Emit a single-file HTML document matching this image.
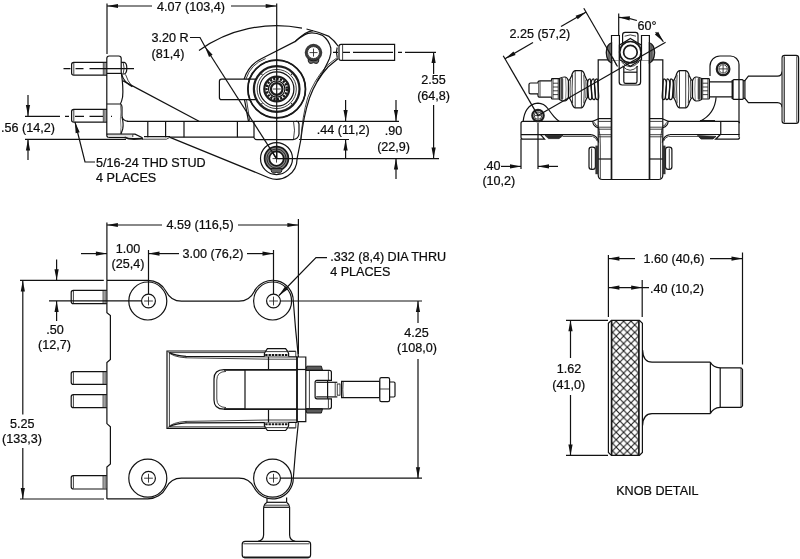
<!DOCTYPE html>
<html><head><meta charset="utf-8"><title>Drawing</title>
<style>
html,body{margin:0;padding:0;background:#fff;}
body{width:800px;height:559px;overflow:hidden;}
svg{display:block;opacity:0.999;will-change:transform;}
.l{fill:none;stroke:#121212;stroke-width:1.2;}
.w{fill:#fff;stroke:#121212;stroke-width:1.2;}
.k{fill:none;stroke:#181818;stroke-width:1.7;}
.kk{fill:none;stroke:#1d1d1d;stroke-width:2.2;}
.f{fill:none;stroke:#202020;stroke-width:0.85;}
.g{fill:none;stroke:#555;stroke-width:0.7;}
.d{fill:#2a2a2a;stroke:#1d1d1d;stroke-width:0.8;}
.a{fill:#111;stroke:none;}
.t{font-family:"Liberation Sans",sans-serif;font-size:12.6px;fill:#0c0c0c;stroke:#0c0c0c;stroke-width:0.22px;}
</style></head><body>
<svg width="800" height="559" viewBox="0 0 800 559">
<rect x="0" y="0" width="800" height="559" fill="#fff"/>
<g id="v1">
<line class="l" x1="107" y1="3.5" x2="107" y2="54"/>
<line class="l" x1="276.7" y1="3.5" x2="276.7" y2="158.6"/>
<line class="l" x1="107" y1="6" x2="152" y2="6"/>
<polygon class="a" points="107.00,6.00 118.00,3.90 118.00,8.10"/>
<line class="l" x1="231" y1="6" x2="276.7" y2="6"/>
<polygon class="a" points="276.70,6.00 265.70,8.10 265.70,3.90"/>
<text class="t" x="157" y="10.6" text-anchor="start">4.07 (103,4)</text>
<path class="l" d="M199.0,50.5 A133,133 0 0 1 302.0,28.1"/>
<path class="l" d="M306.5,29.0 A133,133 0 0 1 329.0,36.4 Q334.6,40.6 338.2,46.2"/>
<line class="l" x1="276.5" y1="158.6" x2="204.88029795832466" y2="46.5302972277447"/>
<polygon class="a" points="204.88,46.53 212.57,54.67 209.03,56.93"/>
<path class="l" d="M204.9,46.5 L200,37.5 H190"/>
<text class="t" x="151.5" y="42" text-anchor="start">3.20 R</text>
<text class="t" x="151.5" y="57.7" text-anchor="start">(81,4)</text>
<path class="w" d="M107,62.3 H73.8 Q71.6,62.3 71.6,64.5 V73.0 Q71.6,75.2 73.8,75.2 H107"/>
<line class="f" x1="73.8" y1="62.8" x2="73.8" y2="74.7"/>
<line class="f" x1="103.3" y1="62.599999999999994" x2="103.3" y2="74.9"/>
<line class="g" x1="104.5" y1="62.599999999999994" x2="104.5" y2="74.9"/>
<line class="g" x1="105.7" y1="62.599999999999994" x2="105.7" y2="74.9"/>
<path class="w" d="M107,109.4 H73.8 Q71.6,109.4 71.6,111.60000000000001 V120.0 Q71.6,122.2 73.8,122.2 H107"/>
<line class="f" x1="73.8" y1="109.9" x2="73.8" y2="121.7"/>
<line class="f" x1="103.3" y1="109.7" x2="103.3" y2="121.9"/>
<line class="g" x1="104.5" y1="109.7" x2="104.5" y2="121.9"/>
<line class="g" x1="105.7" y1="109.7" x2="105.7" y2="121.9"/>
<path class="l" stroke-dasharray="7 5 8 6 45 200" d="M63.5,68.6 H134"/>
<path class="l" stroke-dasharray="35 5 4 6 9 5.5 13.5 8 1 200" d="M25,116.3 H113"/>
<path class="l" d="M106.8,135.3 Q106.8,137.3 108.8,137.3 M106.8,135.3 V58.5 Q106.8,56 109.3,56 H118.7 Q121.2,56 121.2,58.5 V72 Q123.6,88 122.6,97 Q121.6,102 120.4,104"/>
<line class="l" x1="106.8" y1="73.4" x2="121.4" y2="73.4"/>
<path class="l" d="M121.2,62.4 H124.3 Q126.8,63 126.8,68.2 Q126.8,73.2 124.3,74 H121.6"/>
<path class="f" d="M123.2,62.6 Q125,68.2 123.2,73.8"/>
<path class="l" d="M106.8,104 H120.4 Q122,104.6 122,107 V116 Q122.4,120.8 128,121.3"/>
<path class="l" d="M122,117 Q123.8,124 122.7,129 Q121.6,132 121,134.2"/>
<path class="g" d="M120.4,105 Q121.4,112 120.4,119 Q121.6,128 120.4,134"/>
<path class="l" d="M121.8,74.6 Q123.6,82 132.3,86.6"/>
<path class="f" d="M125.5,74.4 Q127.5,81 132.3,86.6"/>
<line class="l" x1="122.6" y1="80.6" x2="199" y2="121.3"/>
<line class="l" x1="127" y1="121.3" x2="399" y2="121.3"/>
<path class="l" d="M106.8,134.2 H135 L142.5,137.8 M108.8,137.3 H125 M144,136.6 H170 M170,137.2 H254"/>
<rect x="108" y="134.8" width="25" height="2" fill="#ddd"/>
<line class="f" x1="132.8" y1="134.4" x2="132.8" y2="137"/>
<path class="f" d="M142,139.2 H166.4 L170,137.3"/>
<path d="M124.5,137.2 Q128,139 134,139 L143,138.6" fill="none" stroke="#151515" stroke-width="1.8"/>
<line class="l" x1="147.8" y1="121.3" x2="147.8" y2="137.2"/>
<line class="l" x1="165.6" y1="121.3" x2="165.6" y2="137.2"/>
<line class="l" x1="184" y1="121.3" x2="184" y2="137.2"/>
<line class="l" x1="237.4" y1="121.3" x2="237.4" y2="137.2"/>
<path class="l" d="M254,121 V137.6 Q254.5,139.6 257,139.6 H293 Q298.5,139 299,134 V124 Q298.8,121.5 296,121"/>
<path class="f" d="M293.5,121.5 Q295.5,130 293.5,139.2"/>
<line class="l" x1="299" y1="139.5" x2="349" y2="139.5"/>
<path class="l" d="M170,137.4 L268.7,177.7 A20.6,20.6 0 0 0 297.1,158.6 L300.8,140"/>
<path class="l" d="M338.2,58.5 Q334.4,61.7 328,67 Q316,80 309.5,98 Q303.5,116 300.8,140"/>
<path class="f" d="M337.6,57.4 Q332.2,61.2 326.9,65.6 Q314,80 307.6,98 Q302.4,116 300.8,140"/>
<path class="l" d="M295.6,41 Q303,35 308,33.4 Q314,31.8 322.6,35.4 Q329,40 330.8,48 Q331.6,53 329.5,58.5 Q327,64 322.6,72.5 Q319.5,77 317,81.6"/>
<path class="l" d="M295,41.8 Q300,37 305,33.6 Q309,31 313,30.6"/>
<path class="l" d="M295.4,41.4 L261.3,58.7 A34.0,34.0 0 0 0 244.1,79.2"/>
<path class="f" d="M265.6,58.6 A32.3,32.3 0 0 0 245.9,79.2"/>
<path class="l" d="M244.5,99.6 L248.5,121.3"/>
<path class="f" d="M246.5,99.6 L249.8,121.3"/>
<circle cx="313.5" cy="52.6" r="7.5" fill="none" stroke="#3a3a3a" stroke-width="2.6"/>
<circle class="f" cx="313.5" cy="52.6" r="6"/>
<line class="f" x1="309.5" y1="52.6" x2="317.5" y2="52.6"/>
<line class="f" x1="313.5" y1="48.6" x2="313.5" y2="56.6"/>
<path d="M308.2,59.2 Q308,63.6 311.2,63.4 Q313.5,62 315.8,63.4 Q319,63.6 318.8,59.2 Q313.5,62.6 308.2,59.2 Z" fill="#666" stroke="#181818" stroke-width="1"/>
<path class="l" d="M255.5,79.2 H221.5 Q219.4,79.2 219.4,81.4 V97.4 Q219.4,99.6 221.5,99.6 H255.5"/>
<circle class="w" cx="276.7" cy="89.0" r="28.8"/>
<circle class="k" cx="276.7" cy="89.0" r="28.8"/>
<circle class="kk" cx="276.7" cy="89.0" r="22.8"/>
<circle class="f" cx="276.7" cy="89.0" r="19.6"/>
<circle class="l" cx="276.7" cy="89.0" r="17.2"/>
<circle class="kk" cx="276.7" cy="89.0" r="12.4"/>
<circle cx="276.7" cy="89.0" r="10.2" fill="none" stroke="#181818" stroke-width="2.4" stroke-dasharray="2.2 1.2"/>
<circle class="l" cx="276.7" cy="89.0" r="8.2"/>
<circle class="kk" cx="276.7" cy="89.0" r="5.8"/>
<circle cx="291.5" cy="103.8" r="0.7" fill="#181818"/>
<circle cx="261.9" cy="103.8" r="0.7" fill="#181818"/>
<circle cx="261.9" cy="74.2" r="0.7" fill="#181818"/>
<circle cx="291.5" cy="74.2" r="0.7" fill="#181818"/>
<path class="l" d="M248,79.2 H256 M248,99.6 H256"/>
<line class="l" x1="276.7" y1="59.0" x2="276.7" y2="119.0"/>
<line class="f" x1="272.7" y1="89.0" x2="280.7" y2="89.0"/>
<circle class="l" cx="276.5" cy="158.6" r="16"/>
<circle cx="276.5" cy="158.6" r="9.6" fill="none" stroke="#858585" stroke-width="4.4"/>
<circle class="k" cx="276.5" cy="158.6" r="11.9"/>
<circle class="f" cx="276.5" cy="158.6" r="9.6"/>
<circle class="k" cx="276.5" cy="158.6" r="7.2"/>
<line class="f" x1="272.5" y1="158.6" x2="280.5" y2="158.6"/>
<line class="f" x1="276.5" y1="154.6" x2="276.5" y2="162.6"/>
<line class="l" x1="276.5" y1="158.6" x2="269.4995779959265" y2="147.64581852602015"/>
<line class="l" x1="276.7" y1="145.6" x2="276.7" y2="158.6"/>
<path d="M271.1,168.6 Q270.9,173.4 274.1,173.2 Q276.5,171.6 278.9,173.2 Q282.1,173.4 281.9,168.6 Z" fill="#666" stroke="#181818" stroke-width="1"/>
<path class="w" d="M339,46.5 Q339,44.4 341,44.4 H394.6 V60.4 H341 Q339,60.4 339,58.3 Z"/>
<line class="f" x1="342.6" y1="44.6" x2="342.6" y2="60.2"/>
<path class="l" d="M337.2,47.5 Q335.5,52.4 337.2,57.4"/>
<path class="l" stroke-dasharray="5 5 7 3 40 5 4 3 200" d="M333,52.3 H436"/>
<line class="l" x1="433.6" y1="52" x2="433.6" y2="74"/>
<polygon class="a" points="433.60,52.00 435.70,63.00 431.50,63.00"/>
<line class="l" x1="433.6" y1="105" x2="433.6" y2="158.6"/>
<polygon class="a" points="433.60,158.60 431.50,147.60 435.70,147.60"/>
<text class="t" x="433.6" y="84.2" text-anchor="middle">2.55</text>
<text class="t" x="433.6" y="100.4" text-anchor="middle">(64,8)</text>
<line class="l" x1="276.5" y1="158.6" x2="439" y2="158.6"/>
<line class="l" x1="345.6" y1="100" x2="345.6" y2="121"/>
<polygon class="a" points="345.60,121.00 343.50,110.00 347.70,110.00"/>
<line class="l" x1="396" y1="100" x2="396" y2="121"/>
<polygon class="a" points="396.00,121.00 393.90,110.00 398.10,110.00"/>
<line class="l" x1="345.6" y1="139.5" x2="345.6" y2="158.6"/>
<polygon class="a" points="345.60,139.50 347.70,150.50 343.50,150.50"/>
<line class="l" x1="396" y1="158.6" x2="396" y2="179"/>
<polygon class="a" points="396.00,158.60 398.10,169.60 393.90,169.60"/>
<text class="t" x="316.7" y="134" text-anchor="start">.44 (11,2)</text>
<text class="t" x="393.6" y="135" text-anchor="middle">.90</text>
<text class="t" x="393.6" y="151" text-anchor="middle">(22,9)</text>
<line class="l" x1="28" y1="95" x2="28" y2="116"/>
<polygon class="a" points="28.00,116.00 25.90,105.00 30.10,105.00"/>
<line class="l" x1="28" y1="139.4" x2="28" y2="160"/>
<polygon class="a" points="28.00,139.40 30.10,150.40 25.90,150.40"/>
<line class="l" x1="25" y1="139.4" x2="126" y2="139.4"/>
<text class="t" x="1" y="132.4" text-anchor="start">.56 (14,2)</text>
<polygon class="a" points="75.00,122.00 79.70,132.17 75.62,133.18"/>
<path class="l" d="M75,122 L85,162 H95"/>
<text class="t" x="96" y="167" text-anchor="start">5/16-24 THD STUD</text>
<text class="t" x="96" y="182" text-anchor="start">4 PLACES</text>
</g>
<g id="v2">
<path class="l" d="M593,121.4 H523 Q521,121.4 521,123.4 V137.2 Q521,139.2 523,139.2 H544.6 L540.6,134.6"/>
<line class="l" x1="521" y1="134.6" x2="591.2" y2="134.6"/>
<line class="f" x1="563" y1="136.4" x2="592.4" y2="136.4"/>
<path class="d" d="M545,135.4 L548.5,138.6 H559 L563,135.6 Z"/>
<path class="l" d="M667.9,121.3 H737.5 Q739.5,121.3 739.5,123.3 M720.75,121.3 V134.5 M669.7,134.5 H739.5 M720.4,134.5 L715.6,139.2 H737.5 Q739.5,139.2 739.5,137.2"/>
<line class="k" x1="700" y1="120.9" x2="715" y2="120.9"/>
<line class="f" x1="668.5" y1="136.4" x2="698" y2="136.4"/>
<path class="d" d="M697.5,135.6 L701,139 H713 L716,136.4 Z"/>
<path class="l" d="M523.2,121.4 Q524,113.6 527,109.4 Q531,103.6 538,103.2 Q544,103.4 547.8,108.5 Q551,113 554,116.6 Q556.6,119.6 559.4,121.4"/>
<circle class="kk" cx="538" cy="115.6" r="5.7"/>
<circle class="f" cx="538" cy="115.6" r="3.8"/>
<line class="f" x1="534.6" y1="115.6" x2="541.4" y2="115.6"/>
<line class="f" x1="538" y1="112.19999999999999" x2="538" y2="119.0"/>
<path class="l" d="M710,76 V66 A10,10 0 0 1 720,56 H730.5 A8.5,8.5 0 0 1 739,64.5 V137"/>
<path class="l" d="M716.1,97.2 Q714.8,114 700,121.2"/>
<circle class="kk" cx="723.1" cy="68.9" r="6.3"/>
<circle class="f" cx="723.1" cy="68.9" r="4.2"/>
<line class="f" x1="718.9" y1="68.9" x2="727.3000000000001" y2="68.9"/>
<line class="f" x1="723.1" y1="64.7" x2="723.1" y2="73.10000000000001"/>
<path class="w" d="M598.2,175 V59.9 H662.8 V175 Q662.8,179.5 658.3,179.5 H602.6 Q598.2,179.5 598.2,175 Z"/>
<line class="k" x1="611.5" y1="59.9" x2="611.5" y2="179.5"/>
<line class="k" x1="649.5" y1="59.9" x2="649.5" y2="179.5"/>
<line class="l" x1="598.2" y1="118.6" x2="611.5" y2="118.6"/>
<line class="f" x1="598.2" y1="121.4" x2="611.5" y2="121.4"/>
<line class="f" x1="598.2" y1="127.2" x2="611.5" y2="127.2"/>
<line class="f" x1="598.2" y1="129.2" x2="611.5" y2="129.2"/>
<line class="f" x1="598.2" y1="134.7" x2="611.5" y2="134.7"/>
<line class="f" x1="598.2" y1="136.8" x2="611.5" y2="136.8"/>
<line class="l" x1="598.2" y1="159" x2="611.5" y2="159"/>
<line class="l" x1="649.5" y1="118.6" x2="662.8" y2="118.6"/>
<line class="f" x1="649.5" y1="121.4" x2="662.8" y2="121.4"/>
<line class="f" x1="649.5" y1="127.2" x2="662.8" y2="127.2"/>
<line class="f" x1="649.5" y1="129.2" x2="662.8" y2="129.2"/>
<line class="f" x1="649.5" y1="134.7" x2="662.8" y2="134.7"/>
<line class="f" x1="649.5" y1="136.8" x2="662.8" y2="136.8"/>
<line class="l" x1="649.5" y1="159" x2="662.8" y2="159"/>
<path class="l" d="M598.6,118.8 L593,121.2 Q592,125.8 598.6,128"/>
<path class="f" d="M594.4,122.4 Q595,125.2 598.2,126.4"/>
<path class="l" d="M591.2,134.6 Q597.6,135.6 598.6,142.5"/>
<path class="f" d="M592.6,136.4 Q596.6,138 597.2,141"/>
<path class="f" d="M598.8,128 Q600.6,136 600.3,146 V178.6"/>
<rect class="w" x="589" y="147.2" width="6.399999999999977" height="22.2" rx="2.6"/>
<line class="f" x1="591.6" y1="148.5" x2="591.6" y2="169.6"/>
<rect x="595.4" y="145.6" width="2.6" height="28.6" fill="#333"/>
<path class="l" d="M662.3000000000001,118.8 L667.9000000000001,121.2 Q668.9000000000001,125.8 662.3000000000001,128"/>
<path class="f" d="M666.5000000000001,122.4 Q665.9000000000001,125.2 662.7,126.4"/>
<path class="l" d="M669.7,134.6 Q663.3000000000001,135.6 662.3000000000001,142.5"/>
<path class="f" d="M668.3000000000001,136.4 Q664.3000000000001,138 663.7,141"/>
<path class="f" d="M662.1000000000001,128 Q660.3000000000001,136 660.6000000000001,146 V178.6"/>
<rect class="w" x="665.5000000000001" y="147.2" width="6.399999999999977" height="22.2" rx="2.6"/>
<line class="f" x1="669.3000000000001" y1="148.5" x2="669.3000000000001" y2="169.6"/>
<rect x="662.9" y="145.6" width="2.6" height="28.6" fill="#333"/>
<path class="l" d="M619.2,60.2 V82 Q619.2,85 622.2,85 H637.6 Q640.6,85 640.6,82 V60.2"/>
<path class="l" d="M623.8,66 V81.5 Q623.8,83.4 625.6,83.4 H635.2 Q637,83.4 637,81.5 V66"/>
<line class="l" x1="623.8" y1="72.2" x2="637" y2="72.2"/>
<path class="f" d="M621.5,62 Q630,71.5 639,62"/>
<path class="f" d="M622.5,66 Q630,74.5 638,66"/>
<path class="w" d="M611.5,60.2 V35.5 H619.4 V60.2"/>
<path class="w" d="M641.5,60.2 V35.5 H649.4 V60.2"/>
<path d="M611.5,42.8 Q606.8,44 606.3,52.6 Q606.8,61.4 611.5,62.8 Z" fill="#9a9a9a" stroke="#181818" stroke-width="1.3"/>
<line class="f" x1="609" y1="44.4" x2="609" y2="61.2"/>
<line class="g" x1="610.4" y1="43.6" x2="610.4" y2="62"/>
<path d="M649.4000000000001,42.8 Q654.1000000000001,44 654.6000000000001,52.6 Q654.1000000000001,61.4 649.4000000000001,62.8 Z" fill="#9a9a9a" stroke="#181818" stroke-width="1.3"/>
<line class="f" x1="651.9000000000001" y1="44.4" x2="651.9000000000001" y2="61.2"/>
<line class="g" x1="650.5000000000001" y1="43.6" x2="650.5000000000001" y2="62"/>
<path class="l" d="M622.6,45 V35 Q622.6,32.4 625.2,32.4 H635.4 Q638,32.4 638,35 V45"/>
<path class="f" d="M624.6,36.2 Q630.3,33.6 636,36.2"/>
<path class="w" d="M630.4,38.4 L641.4,45.2 V59.4 L630.4,66.2 L619.4,59.4 V45.2 Z"/>
<circle class="k" cx="630.4" cy="52.2" r="10.7"/>
<circle class="k" cx="630.4" cy="52.2" r="6.8"/>
<line class="f" x1="612.3" y1="56.6" x2="616.8" y2="65.6"/>
<path class="w" d="M568.4,80.8 Q570,80 571.5,76 Q573,71 575.2,70.7 H581.4 Q583.5,71 585,76 Q586.5,80 587.6,80.8 V97.2 Q586.5,98 585,102 Q583.5,107.5 581.4,107.9 H575.2 Q573,107.5 571.5,102 Q570,98 568.4,97.2 Z"/>
<line class="f" x1="575.2" y1="70.7" x2="575.2" y2="107.9"/>
<line class="f" x1="581.4" y1="70.7" x2="581.4" y2="107.9"/>
<path class="f" d="M570.4,79.8 Q569.6,89 570.4,98.2"/>
<path class="f" d="M572.6,74.6 Q571.6,89 572.6,103.4"/>
<path class="f" d="M585.8,79.8 Q586.6,89 585.8,98.2"/>
<path class="f" d="M583.8,74.6 Q584.8,89 583.8,103.4"/>
<path class="l" d="M590.0,78.8 Q587.6,79 587.4,84 L588.4,96 Q588.6,100 590.8,99.6 Q592.2,99 591.6,94 L590.8,83 Q590.6,78.8 590.0,78.8"/>
<path class="l" d="M593.6,78.8 Q591.2,79 591.0,84 L592.0,96 Q592.2,100 594.4,99.6 Q595.8000000000001,99 595.2,94 L594.4,83 Q594.2,78.8 593.6,78.8"/>
<path class="l" d="M597.0,78.8 Q594.6,79 594.4,84 L595.4,96 Q595.6,100 597.8,99.6 Q599.2,99 598.6,94 L597.8,83 Q597.6,78.8 597.0,78.8"/>
<path class="w" d="M559.4,78.5 Q562,76.8 565,77 Q567.6,77.6 568.4,80.8 V97.2 Q567.6,100.4 565,101 Q562,101.2 559.4,99.4 Z"/>
<rect x="560.4" y="78" width="2.800000000000068" height="21.8" rx="1" fill="#4a4a4a" stroke="none"/>
<path class="g" d="M565.6,77.6 Q566.6,89 565.6,100.4"/>
<rect class="w" x="551.5" y="78.6" width="7.899999999999977" height="20.4" rx="0.8"/>
<line class="f" x1="553" y1="79" x2="553" y2="98.6"/>
<line class="f" x1="558.2" y1="79" x2="558.2" y2="98.6"/>
<line class="f" x1="553" y1="83.2" x2="558.2" y2="83.2"/>
<line class="f" x1="553" y1="87" x2="558.2" y2="87"/>
<line class="f" x1="553" y1="90.8" x2="558.2" y2="90.8"/>
<line class="f" x1="553" y1="94.6" x2="558.2" y2="94.6"/>
<path class="w" d="M692.5000000000001,80.8 Q690.9000000000001,80 689.4000000000001,76 Q687.9000000000001,71 685.7,70.7 H679.5000000000001 Q677.4000000000001,71 675.9000000000001,76 Q674.4000000000001,80 673.3000000000001,80.8 V97.2 Q674.4000000000001,98 675.9000000000001,102 Q677.4000000000001,107.5 679.5000000000001,107.9 H685.7 Q687.9000000000001,107.5 689.4000000000001,102 Q690.9000000000001,98 692.5000000000001,97.2 Z"/>
<line class="f" x1="685.7" y1="70.7" x2="685.7" y2="107.9"/>
<line class="f" x1="679.5000000000001" y1="70.7" x2="679.5000000000001" y2="107.9"/>
<path class="f" d="M690.5000000000001,79.8 Q691.3000000000001,89 690.5000000000001,98.2"/>
<path class="f" d="M688.3000000000001,74.6 Q689.3000000000001,89 688.3000000000001,103.4"/>
<path class="f" d="M675.1000000000001,79.8 Q674.3000000000001,89 675.1000000000001,98.2"/>
<path class="f" d="M677.1000000000001,74.6 Q676.1000000000001,89 677.1000000000001,103.4"/>
<path class="l" d="M670.9000000000001,78.8 Q673.3000000000001,79 673.5000000000001,84 L672.5000000000001,96 Q672.3000000000001,100 670.1000000000001,99.6 Q668.7,99 669.3000000000001,94 L670.1000000000001,83 Q670.3000000000001,78.8 670.9000000000001,78.8"/>
<path class="l" d="M667.3000000000001,78.8 Q669.7,79 669.9000000000001,84 L668.9000000000001,96 Q668.7,100 666.5000000000001,99.6 Q665.1,99 665.7,94 L666.5000000000001,83 Q666.7,78.8 667.3000000000001,78.8"/>
<path class="l" d="M663.9000000000001,78.8 Q666.3000000000001,79 666.5000000000001,84 L665.5000000000001,96 Q665.3000000000001,100 663.1000000000001,99.6 Q661.7,99 662.3000000000001,94 L663.1000000000001,83 Q663.3000000000001,78.8 663.9000000000001,78.8"/>
<path class="w" d="M701.5000000000001,78.5 Q698.9000000000001,76.8 695.9000000000001,77 Q693.3000000000001,77.6 692.5000000000001,80.8 V97.2 Q693.3000000000001,100.4 695.9000000000001,101 Q698.9000000000001,101.2 701.5000000000001,99.4 Z"/>
<rect x="697.7" y="78" width="2.800000000000068" height="21.8" rx="1" fill="#4a4a4a" stroke="none"/>
<path class="g" d="M695.3000000000001,77.6 Q694.3000000000001,89 695.3000000000001,100.4"/>
<rect class="w" x="701.5000000000001" y="78.6" width="7.899999999999977" height="20.4" rx="0.8"/>
<line class="f" x1="707.9000000000001" y1="79" x2="707.9000000000001" y2="98.6"/>
<line class="f" x1="702.7" y1="79" x2="702.7" y2="98.6"/>
<line class="f" x1="707.9000000000001" y1="83.2" x2="702.7" y2="83.2"/>
<line class="f" x1="707.9000000000001" y1="87" x2="702.7" y2="87"/>
<line class="f" x1="707.9000000000001" y1="90.8" x2="702.7" y2="90.8"/>
<line class="f" x1="707.9000000000001" y1="94.6" x2="702.7" y2="94.6"/>
<path class="l" d="M709.1,81.8 H732.2 M709.1,96.8 H732.2"/>
<line class="k" x1="732.4" y1="80" x2="732.4" y2="99"/>
<rect class="l" x="732.9" y="79.7" width="10.3" height="19.7" rx="1"/>
<path class="l" d="M743.2,80.6 H744.9 L748.4,76.2 H777.4 Q781.8,76 782.1,71.6 M743.2,98.4 H744.9 L748.4,102.6 H777.4 Q781.8,102.8 782.1,107.2"/>
<line class="l" x1="744.9" y1="80.6" x2="744.9" y2="98.4"/>
<rect class="w" x="782.1" y="55.3" width="16.5" height="68.1" rx="2.6"/>
<rect x="782.7" y="57" width="1.7" height="64.6" fill="#bbb"/>
<line class="f" x1="784.4" y1="56.4" x2="784.4" y2="122.4"/>
<line class="f" x1="796.8" y1="56.4" x2="796.8" y2="122.4"/>
<path class="w" d="M551.5,80.8 H540 Q538,80.8 538,82.6 V95.4 Q538,97.2 540,97.2 H551.5"/>
<path class="w" d="M538,83 H530.6 Q529,83 529,84.6 V92.2 Q529,93.8 530.6,93.8 H538"/>
<line class="f" x1="540" y1="81.2" x2="540" y2="96.8"/>
<line class="l" x1="538" y1="115.6" x2="665.6" y2="42.3"/>
<line class="l" x1="503.2" y1="55.7" x2="538" y2="115.6"/>
<line class="l" x1="583.8" y1="8.2" x2="617.5" y2="66.5"/>
<line class="l" x1="505" y1="58.8" x2="533" y2="42.6"/>
<polygon class="a" points="505.00,58.80 513.48,51.48 515.58,55.12"/>
<line class="l" x1="561" y1="26.5" x2="586.2" y2="12.0"/>
<polygon class="a" points="586.20,12.00 577.72,19.32 575.62,15.68"/>
<text class="t" x="509.4" y="38.4" text-anchor="start">2.25 (57,2)</text>
<line class="l" x1="618.7" y1="13.5" x2="618.7" y2="35.5"/>
<path class="l" d="M618.8,17.3 A53,53 0 0 1 636.9,20.5"/>
<polygon class="a" points="618.80,17.30 629.95,16.26 629.55,20.44"/>
<path class="l" d="M655.6,32.2 A53,53 0 0 1 663.4,41.7"/>
<polygon class="a" points="663.40,41.67 654.88,34.40 658.16,31.77"/>
<text class="t" x="637.6" y="30.4" text-anchor="start">60°</text>
<line class="l" x1="521" y1="139" x2="521" y2="169"/>
<line class="l" x1="538" y1="123" x2="538" y2="169"/>
<line class="l" x1="501" y1="166.4" x2="521" y2="166.4"/>
<polygon class="a" points="521.00,166.40 510.00,168.50 510.00,164.30"/>
<line class="l" x1="538" y1="166.4" x2="558" y2="166.4"/>
<polygon class="a" points="538.00,166.40 549.00,164.30 549.00,168.50"/>
<text class="t" x="483" y="170.2" text-anchor="start">.40</text>
<text class="t" x="482.4" y="185.2" text-anchor="start">(10,2)</text>
</g>
<g id="v3">
<path class="w" d="M106.8,290.4 H73.4 Q71.2,290.4 71.2,292.59999999999997 V301.40000000000003 Q71.2,303.6 73.4,303.6 H106.8"/>
<line class="f" x1="73.4" y1="290.9" x2="73.4" y2="303.1"/>
<line class="f" x1="103.1" y1="290.7" x2="103.1" y2="303.3"/>
<line class="g" x1="104.3" y1="290.7" x2="104.3" y2="303.3"/>
<line class="g" x1="105.5" y1="290.7" x2="105.5" y2="303.3"/>
<path class="w" d="M106.8,371.6 H73.4 Q71.2,371.6 71.2,373.8 V382.2 Q71.2,384.4 73.4,384.4 H106.8"/>
<line class="f" x1="73.4" y1="372.1" x2="73.4" y2="383.9"/>
<line class="f" x1="103.1" y1="371.90000000000003" x2="103.1" y2="384.09999999999997"/>
<line class="g" x1="104.3" y1="371.90000000000003" x2="104.3" y2="384.09999999999997"/>
<line class="g" x1="105.5" y1="371.90000000000003" x2="105.5" y2="384.09999999999997"/>
<path class="w" d="M106.8,394.6 H73.4 Q71.2,394.6 71.2,396.8 V405.40000000000003 Q71.2,407.6 73.4,407.6 H106.8"/>
<line class="f" x1="73.4" y1="395.1" x2="73.4" y2="407.1"/>
<line class="f" x1="103.1" y1="394.90000000000003" x2="103.1" y2="407.3"/>
<line class="g" x1="104.3" y1="394.90000000000003" x2="104.3" y2="407.3"/>
<line class="g" x1="105.5" y1="394.90000000000003" x2="105.5" y2="407.3"/>
<path class="w" d="M106.8,475.6 H73.4 Q71.2,475.6 71.2,477.8 V486.8 Q71.2,489 73.4,489 H106.8"/>
<line class="f" x1="73.4" y1="476.1" x2="73.4" y2="488.5"/>
<line class="f" x1="103.1" y1="475.90000000000003" x2="103.1" y2="488.7"/>
<line class="g" x1="104.3" y1="475.90000000000003" x2="104.3" y2="488.7"/>
<line class="g" x1="105.5" y1="475.90000000000003" x2="105.5" y2="488.7"/>
<path class="l" d="M106.9,280.3 V312.8 L110.4,315.6 V359.4 L106.9,362.6 V423.6 L110.4,426.8 V464 L106.9,467 V499"/>
<path class="l" d="M106.9,280.3 H147.8 A20.7,20.7 0 0 1 166.28,291.67 A17,17 0 0 0 181.45,301.1 H238.95 A17,17 0 0 0 254.12,291.67 A20.7,20.7 0 0 1 293.3,301"/>
<path class="l" d="M106.9,498.90000000000003 H147.8 A20.7,20.7 0 0 0 166.28,487.53000000000003 A17,17 0 0 1 181.45,478.1 H238.95 A17,17 0 0 1 254.12,487.53000000000003 A20.7,20.7 0 0 0 293.3,478.20000000000005"/>
<circle class="l" cx="147.8" cy="301" r="19"/>
<circle class="l" cx="148.5" cy="301" r="6.9"/>
<line class="f" x1="144.1" y1="301" x2="152.9" y2="301"/>
<line class="f" x1="148.5" y1="296.6" x2="148.5" y2="305.4"/>
<circle class="l" cx="272.6" cy="301" r="19"/>
<circle class="l" cx="273.5" cy="301" r="6.9"/>
<line class="f" x1="269.1" y1="301" x2="277.9" y2="301"/>
<line class="f" x1="273.5" y1="296.6" x2="273.5" y2="305.4"/>
<circle class="l" cx="147.8" cy="478.2" r="19"/>
<circle class="l" cx="148.5" cy="478.2" r="6.9"/>
<line class="f" x1="144.1" y1="478.2" x2="152.9" y2="478.2"/>
<line class="f" x1="148.5" y1="473.8" x2="148.5" y2="482.59999999999997"/>
<circle class="l" cx="272.6" cy="478.2" r="19"/>
<circle class="l" cx="273.5" cy="478.2" r="6.9"/>
<line class="f" x1="269.1" y1="478.2" x2="277.9" y2="478.2"/>
<line class="f" x1="273.5" y1="473.8" x2="273.5" y2="482.59999999999997"/>
<path class="l" d="M293.3,301 Q295.4,330 298.4,357"/>
<path class="l" d="M293.3,478.20000000000005 Q295.4,449.20000000000005 298.4,422.20000000000005"/>
<path class="l" d="M265.6,351 H167 V428.4 H265.6"/>
<path class="f" d="M266,352.6 H169.4 V426.8 H266"/>
<path class="f" d="M168,351.6 Q172,356.8 186,357.8 L268.4,359.2"/>
<path class="l" d="M169.4,352.6 Q176,355.8 186,356.3 L297.5,356.8"/>
<line class="f" x1="186" y1="356.3" x2="186" y2="357.8"/>
<line class="f" x1="268.4" y1="359.2" x2="297" y2="359.2"/>
<path class="w" d="M264.4,356.6 V353.6 L265.4,351.6 L267.4,348.7 H285.6 L287.8,351.6 L288.6,353.6 V356.6"/>
<line class="f" x1="265.4" y1="351.6" x2="287.8" y2="351.6"/>
<path d="M265.2,354.9 H288" stroke="#181818" stroke-width="2" stroke-dasharray="2.4 0.9" fill="none"/>
<line class="l" x1="288.4" y1="351.3" x2="295.8" y2="351.3"/>
<line class="f" x1="295.8" y1="351.3" x2="295.8" y2="356.8"/>
<line class="l" x1="268.5" y1="356.8" x2="268.5" y2="370"/>
<path class="f" d="M168,427.6 Q172,422.40000000000003 186,421.40000000000003 L268.4,420.00000000000006"/>
<path class="l" d="M169.4,426.6 Q176,423.40000000000003 186,422.90000000000003 L297.5,422.40000000000003"/>
<line class="f" x1="186" y1="422.90000000000003" x2="186" y2="421.40000000000003"/>
<line class="f" x1="268.4" y1="420.00000000000006" x2="297" y2="420.00000000000006"/>
<path class="w" d="M264.4,422.6 V425.6 L265.4,427.6 L267.4,430.50000000000006 H285.6 L287.8,427.6 L288.6,425.6 V422.6"/>
<line class="f" x1="265.4" y1="427.6" x2="287.8" y2="427.6"/>
<path d="M265.2,424.30000000000007 H288" stroke="#181818" stroke-width="2" stroke-dasharray="2.4 0.9" fill="none"/>
<line class="l" x1="288.4" y1="427.90000000000003" x2="295.8" y2="427.90000000000003"/>
<line class="f" x1="295.8" y1="427.90000000000003" x2="295.8" y2="422.40000000000003"/>
<line class="l" x1="268.5" y1="422.40000000000003" x2="268.5" y2="409.20000000000005"/>
<path class="l" d="M245,369.6 H224 Q214,369.6 214,379 V400 Q214,409.2 224,409.2 H245"/>
<path class="f" d="M226,371.4 Q216.8,371.6 216.8,380 V399 Q216.8,407.2 226,407.6"/>
<line class="l" x1="245" y1="370" x2="245" y2="409"/>
<line class="k" x1="224" y1="369.8" x2="297" y2="369.8"/>
<line class="k" x1="224" y1="409.2" x2="297" y2="409.2"/>
<path class="w" d="M297,357 H305.8 V421.6 H297 Z"/>
<line class="k" x1="297" y1="357" x2="297" y2="421.6"/>
<line class="l" x1="297" y1="369.5" x2="305.8" y2="369.5"/>
<line class="l" x1="297" y1="409.2" x2="305.8" y2="409.2"/>
<path d="M305.9,370.4 L306.8,366.2 H321.4 L322.5,370.4 Z" fill="#5a5a5a" stroke="#1a1a1a" stroke-width="1"/>
<line class="f" x1="328.4" y1="371.2" x2="328.4" y2="380.4"/>
<path d="M305.9,408.80000000000007 L306.8,413.00000000000006 H321.4 L322.5,408.80000000000007 Z" fill="#5a5a5a" stroke="#1a1a1a" stroke-width="1"/>
<line class="f" x1="328.4" y1="408.00000000000006" x2="328.4" y2="398.80000000000007"/>
<path class="l" d="M306,370.4 H329.4 Q331.4,370.4 331.4,372.4 V380.4 H317 Q315.1,380.4 315.1,382.4 V396.8 Q315.1,398.8 317,398.8 H331.4 V406.8 Q331.4,408.8 329.4,408.8 H306"/>
<line class="f" x1="309.4" y1="370.4" x2="309.4" y2="408.8"/>
<line class="l" x1="327.6" y1="380.4" x2="327.6" y2="398.8"/>
<line class="l" x1="316.2" y1="382.3" x2="337.3" y2="382.3"/>
<line class="l" x1="316.2" y1="396.9" x2="337.3" y2="396.9"/>
<path class="f" d="M335.2,382.6 V396.6 M337.3,383.6 V395.6 M340,383.6 V395.6"/>
<path class="f" d="M337.3,384 H340 M337.3,395.2 H340"/>
<path class="w" d="M341.6,381.4 H379.8 V397.6 H341.6 Z"/>
<path class="f" d="M343.2,381.8 Q342.4,389.5 343.2,397.2"/>
<rect class="w" x="379.8" y="377.6" width="9.8" height="24" rx="1.6"/>
<line class="f" x1="379.8" y1="389" x2="389.6" y2="389"/>
<path class="l" d="M389.6,382 H393.8 Q395,382 395,383.2 V395.8 Q395,397 393.8,397 H389.6"/>
<path class="l" d="M267,497.5 V502.3 M286.6,497.5 V502.3"/>
<line class="l" x1="267" y1="502.3" x2="286.6" y2="502.3"/>
<path class="l" d="M267,502.3 Q264,504 263.6,507.3 M286.6,502.3 Q289.2,504 289.6,507.3"/>
<line class="l" x1="263.6" y1="507.3" x2="289.6" y2="507.3"/>
<line class="f" x1="265" y1="505.2" x2="288.4" y2="505.2"/>
<path class="l" d="M263.6,507.3 V535 Q263.4,540.3 258,541.3 M289.6,507.3 V535 Q289.8,540.3 295.2,541.3"/>
<rect class="w" x="242.2" y="541.3" width="68.4" height="16.4" rx="3"/>
<line class="f" x1="243.4" y1="543.8" x2="309.4" y2="543.8"/>
<line class="k" x1="244" y1="557.4" x2="308.8" y2="557.4"/>
<line class="l" x1="106.9" y1="222.5" x2="106.9" y2="280.3"/>
<line class="l" x1="298.4" y1="219" x2="298.4" y2="354"/>
<line class="l" x1="106.9" y1="225" x2="162" y2="225"/>
<polygon class="a" points="106.90,225.00 117.90,222.90 117.90,227.10"/>
<line class="l" x1="238" y1="225" x2="298.4" y2="225"/>
<polygon class="a" points="298.40,225.00 287.40,227.10 287.40,222.90"/>
<text class="t" x="166.6" y="229.2" text-anchor="start">4.59 (116,5)</text>
<line class="l" x1="81" y1="253.6" x2="106.9" y2="253.6"/>
<polygon class="a" points="106.90,253.60 95.90,255.70 95.90,251.50"/>
<line class="l" x1="148.5" y1="250" x2="148.5" y2="294"/>
<line class="l" x1="148.5" y1="253.6" x2="179" y2="253.6"/>
<polygon class="a" points="148.50,253.60 159.50,251.50 159.50,255.70"/>
<text class="t" x="128" y="252.6" text-anchor="middle">1.00</text>
<text class="t" x="128" y="268" text-anchor="middle">(25,4)</text>
<line class="l" x1="247" y1="253.6" x2="273.5" y2="253.6"/>
<polygon class="a" points="273.50,253.60 262.50,255.70 262.50,251.50"/>
<line class="l" x1="273.5" y1="250" x2="273.5" y2="294"/>
<text class="t" x="182.6" y="257.6" text-anchor="start">3.00 (76,2)</text>
<line class="l" x1="20" y1="280.3" x2="103.8" y2="280.3"/>
<line class="l" x1="49" y1="300.9" x2="141.5" y2="300.9"/>
<line class="l" x1="56.6" y1="259.4" x2="56.6" y2="280.3"/>
<polygon class="a" points="56.60,280.30 54.50,269.30 58.70,269.30"/>
<line class="l" x1="56.6" y1="301" x2="56.6" y2="321"/>
<polygon class="a" points="56.60,301.00 58.70,312.00 54.50,312.00"/>
<text class="t" x="55" y="333.8" text-anchor="middle">.50</text>
<text class="t" x="54.5" y="349" text-anchor="middle">(12,7)</text>
<line class="l" x1="22.8" y1="280.4" x2="22.8" y2="414.5"/>
<polygon class="a" points="22.80,280.40 24.90,291.40 20.70,291.40"/>
<line class="l" x1="22.8" y1="448" x2="22.8" y2="499"/>
<polygon class="a" points="22.80,499.00 20.70,488.00 24.90,488.00"/>
<line class="l" x1="20" y1="499" x2="104" y2="499"/>
<text class="t" x="22.2" y="428" text-anchor="middle">5.25</text>
<text class="t" x="22" y="443.2" text-anchor="middle">(133,3)</text>
<line class="l" x1="280.4" y1="301" x2="422" y2="301"/>
<line class="l" x1="280.4" y1="478.2" x2="422" y2="478.2"/>
<line class="l" x1="418" y1="301" x2="418" y2="323"/>
<polygon class="a" points="418.00,301.00 420.10,312.00 415.90,312.00"/>
<line class="l" x1="418" y1="359" x2="418" y2="478.2"/>
<polygon class="a" points="418.00,478.20 415.90,467.20 420.10,467.20"/>
<text class="t" x="416.6" y="336.6" text-anchor="middle">4.25</text>
<text class="t" x="417" y="352" text-anchor="middle">(108,0)</text>
<polygon class="a" points="279.00,295.50 285.18,286.16 288.19,289.10"/>
<path class="l" d="M279,295.5 L316,257.6 H327"/>
<text class="t" x="330.2" y="261.4" text-anchor="start">.332 (8,4) DIA THRU</text>
<text class="t" x="330.2" y="276.2" text-anchor="start">4 PLACES</text>
</g>
<g id="v4">
<defs><pattern id="kn" width="7.4" height="7.4" patternUnits="userSpaceOnUse" x="612.5" y="325"><path d="M-1,-1 L8.4,8.4 M8.4,-1 L-1,8.4" stroke="#1d1d1d" stroke-width="1.1" fill="none"/></pattern></defs>
<rect x="611.6" y="320.6" width="27.3" height="134.6" fill="url(#kn)"/>
<path class="l" d="M611.4,320.3 H639.4 L642.4,323.3 V452.4 L639.4,455.4 H611.4 L608.4,452.4 V323.3 Z"/>
<line class="k" x1="611.6" y1="320.6" x2="611.6" y2="455"/>
<line class="k" x1="638.9" y1="320.6" x2="638.9" y2="455"/>
<path class="l" d="M642.6,350 Q643,362 652,362.2 H710.4 M642.6,425.5 Q643,413.8 652,413.6 H710.4"/>
<line class="l" x1="710.4" y1="362.2" x2="710.4" y2="413.6"/>
<path class="l" d="M710.4,362.2 Q713,367.4 720.2,367.8 H741 L742.5,369.4 V405.8 L741,407.3 H720.2 Q713,407.8 710.4,413.6"/>
<line class="l" x1="720.2" y1="367.8" x2="720.2" y2="407.3"/>
<line class="f" x1="741" y1="368" x2="741" y2="407"/>
<line class="l" x1="608.4" y1="255" x2="608.4" y2="317"/>
<line class="l" x1="742.5" y1="252.5" x2="742.5" y2="364.5"/>
<line class="l" x1="608.4" y1="258.6" x2="635" y2="258.6"/>
<polygon class="a" points="608.40,258.60 619.40,256.50 619.40,260.70"/>
<line class="l" x1="710" y1="258.6" x2="742.5" y2="258.6"/>
<polygon class="a" points="742.50,258.60 731.50,260.70 731.50,256.50"/>
<text class="t" x="643.6" y="263" text-anchor="start">1.60 (40,6)</text>
<line class="l" x1="642.2" y1="280" x2="642.2" y2="317"/>
<line class="l" x1="608.4" y1="287.6" x2="649" y2="287.6"/>
<polygon class="a" points="608.40,287.60 619.40,285.50 619.40,289.70"/>
<polygon class="a" points="642.20,287.60 631.20,289.70 631.20,285.50"/>
<text class="t" x="650" y="293" text-anchor="start">.40 (10,2)</text>
<line class="l" x1="566" y1="320.3" x2="608" y2="320.3"/>
<line class="l" x1="566" y1="455.4" x2="608" y2="455.4"/>
<line class="l" x1="570.5" y1="320.3" x2="570.5" y2="358"/>
<polygon class="a" points="570.50,320.30 572.60,331.30 568.40,331.30"/>
<line class="l" x1="570.5" y1="395" x2="570.5" y2="455.4"/>
<polygon class="a" points="570.50,455.40 568.40,444.40 572.60,444.40"/>
<text class="t" x="569" y="373" text-anchor="middle">1.62</text>
<text class="t" x="568.8" y="389" text-anchor="middle">(41,0)</text>
<text class="t" x="616.2" y="495.1" text-anchor="start">KNOB DETAIL</text>
</g>
</svg>
</body></html>
